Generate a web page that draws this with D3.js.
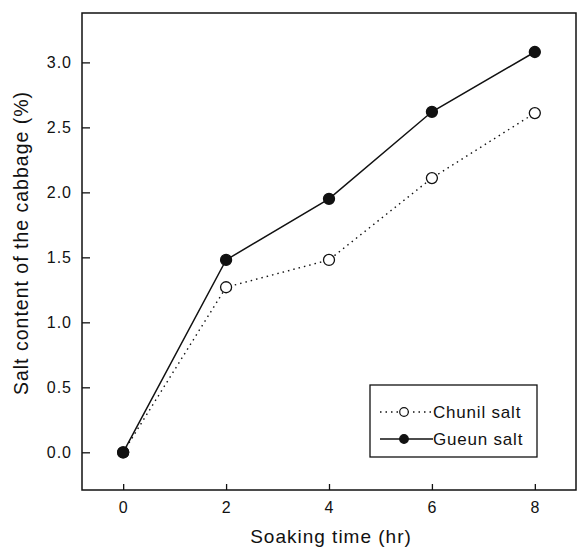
<!DOCTYPE html>
<html>
<head>
<meta charset="utf-8">
<script src="https://cdn.jsdelivr.net/npm/d3@7"></script>
<style>
    body { margin: 0; background: #fff; }
    text { font-family: "Liberation Sans", Arial, sans-serif; fill: #111; }
</style>
</head>
<body>
<div id="chart"></div>
<script>
const hours = [0, 2, 4, 6, 8];
const chunil = [0, 1.27, 1.48, 2.11, 2.61];
const gueun = [0, 1.48, 1.95, 2.62, 3.08];
const xTicks = [0, 2, 4, 6, 8];
const yTicks = [0, 0.5, 1.0, 1.5, 2.0, 2.5, 3.0];

const width = 579, height = 550;
const plotLeft = 82, plotRight = 576, plotTop = 13, plotBottom = 490;

const svg = d3.select('#chart')
.append('svg')
.attr('width', width)
.attr('height', height);

const x = d3.scaleLinear().domain([-0.8, 8.8]).range([plotLeft, plotRight]);
const y = d3.scaleLinear().domain([-0.29, 3.38]).range([plotBottom, plotTop]);

// frame
svg
.append('rect')
.attr('x', plotLeft)
.attr('y', plotTop)
.attr('width', plotRight - plotLeft)
.attr('height', plotBottom - plotTop)
.attr('fill', 'none')
.attr('stroke', '#111')
.attr('stroke-width', 1.5);

// axes (ticks pointing inward)
const xAxis = svg.append('g')
.attr('transform', `translate(0,${plotBottom})`)
.call(d3.axisBottom(x).tickValues(xTicks).tickSizeInner(-6).tickSizeOuter(0).tickPadding(12));

const yAxis = svg.append('g')
.attr('transform', `translate(${plotLeft},0)`)
.call(d3.axisLeft(y).tickValues(yTicks).tickFormat(d3.format('.1f')).tickSizeInner(-8).tickSizeOuter(0).tickPadding(10));

[xAxis, yAxis].forEach(g => {
    g.select('.domain').remove();
    g.selectAll('line').attr('stroke', '#111').attr('stroke-width', 1.3);
    g.selectAll('text')
    .attr('font-size', 16)
    .attr('letter-spacing', 1)
    .attr('font-family', '"Liberation Sans", Arial, sans-serif')
    .attr('fill', '#111');
});

// axis titles
svg
.append('text')
.attr('x', 331)
.attr('y', 543)
.attr('text-anchor', 'middle')
.attr('font-size', 19)
.attr('letter-spacing', 1)
.text('Soaking time (hr)');

svg
.append('text')
.attr('transform', 'translate(28,243) rotate(-90)')
.attr('text-anchor', 'middle')
.attr('font-size', 19.5)
.attr('letter-spacing', 1)
.text('Salt content of the cabbage (%)');

// series
const series = [
    { name: 'Chunil salt', values: chunil, dash: '1.5,4', fill: '#fff' },
    { name: 'Gueun salt', values: gueun, dash: null, fill: '#111' }
];

const line = d3.line()
.x((d, i) => x(hours[i]))
.y(d => y(d));

series.forEach(s => {
    svg
    .append('path')
    .datum(s.values)
    .attr('d', line)
    .attr('fill', 'none')
    .attr('stroke', '#111')
    .attr('stroke-width', s.dash ? 1.4 : 1.5)
    .attr('stroke-dasharray', s.dash);
});

// Chunil markers first so the filled Gueun dot sits on top at 0 hr
series.forEach(s => {
    svg
    .selectAll(null)
    .data(s.values)
    .enter()
    .append('circle')
    .attr('cx', (d, i) => x(hours[i]))
    .attr('cy', d => y(d))
    .attr('r', 5.5)
    .attr('fill', s.fill)
    .attr('stroke', '#111')
    .attr('stroke-width', 1.3);
});

// legend
const legend = svg.append('g');

legend
.append('rect')
.attr('x', 370)
.attr('y', 385)
.attr('width', 167)
.attr('height', 72)
.attr('fill', '#fff')
.attr('stroke', '#111')
.attr('stroke-width', 1.3);

series.forEach((s, i) => {
    const ly = 412 + i * 27;

    legend
    .append('line')
    .attr('x1', 380)
    .attr('x2', 433)
    .attr('y1', ly)
    .attr('y2', ly)
    .attr('stroke', '#111')
    .attr('stroke-width', 1.4)
    .attr('stroke-dasharray', s.dash);

    legend
    .append('circle')
    .attr('cx', 404)
    .attr('cy', ly)
    .attr('r', 4.3)
    .attr('fill', s.fill)
    .attr('stroke', '#111')
    .attr('stroke-width', 1.2);

    legend
    .append('text')
    .attr('x', 433)
    .attr('y', ly + 6)
    .attr('font-size', 17)
    .attr('letter-spacing', 0.8)
    .text(s.name);
});
</script>
</body>
</html>
